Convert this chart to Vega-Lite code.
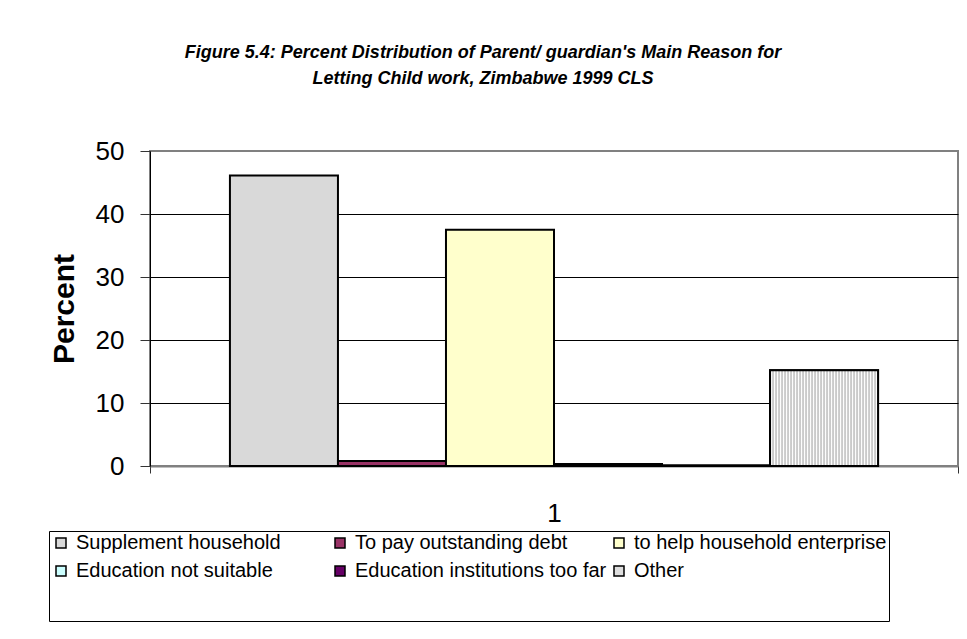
{
  "$schema": "https://vega.github.io/schema/vega-lite/v6.json",
  "width": 808,
  "height": 315,
  "autosize": {"type": "none"},
  "padding": {"left": 150, "top": 151, "right": 9, "bottom": 173},
  "background": "white",
  "title": {
    "text": ["Figure  5.4: Percent Distribution of Parent/ guardian's Main Reason for", "Letting Child work, Zimbabwe 1999 CLS"],
    "font": "Liberation Sans",
    "fontSize": 18,
    "fontStyle": "italic",
    "fontWeight": "bold",
    "color": "black",
    "anchor": "middle",
    "dx": -71,
    "offset": 50,
    "lineHeight": 26
  },
  "data": {
    "values": [
      {"group": "1", "reason": "Supplement household", "percent": 46.1},
      {"group": "1", "reason": "To pay outstanding debt", "percent": 0.8},
      {"group": "1", "reason": "to help household enterprise", "percent": 37.5},
      {"group": "1", "reason": "Education not suitable", "percent": 0.3},
      {"group": "1", "reason": "Education institutions too far", "percent": 0.1},
      {"group": "1", "reason": "Other", "percent": 15.2}
    ]
  },
  "encoding": {
    "x": {
      "field": "group",
      "type": "nominal",
      "scale": {"paddingInner": 0, "paddingOuter": 0},
      "axis": {
        "title": null,
        "labelAngle": 0,
        "labelFont": "Liberation Sans",
        "labelFontSize": 26,
        "labelColor": "black",
        "labelPadding": 27,
        "tickBand": "extent",
        "tickSize": 7,
        "tickColor": "#333333",
        "domainColor": "#808080",
        "domainWidth": 2
      }
    },
    "xOffset": {
      "field": "reason",
      "type": "nominal",
      "sort": ["Supplement household", "To pay outstanding debt", "to help household enterprise", "Education not suitable", "Education institutions too far", "Other"],
      "scale": {"paddingInner": 0, "paddingOuter": 0.74}
    },
    "y": {
      "field": "percent",
      "type": "quantitative",
      "scale": {"domain": [0, 50], "nice": false},
      "axis": {
        "title": "Percent",
        "titleFont": "Liberation Sans",
        "titleFontSize": 30,
        "titleFontWeight": "bold",
        "titleColor": "black",
        "titlePadding": 16,
        "values": [0, 10, 20, 30, 40, 50],
        "labelFont": "Liberation Sans",
        "labelFontSize": 26,
        "labelColor": "black",
        "labelPadding": 16,
        "tickSize": 10,
        "tickColor": "#333333",
        "domainColor": "black",
        "domainWidth": 1,
        "grid": true,
        "gridColor": "black",
        "gridWidth": 1,
        "gridOpacity": {"condition": {"test": "datum.value == 0 || datum.value == 50", "value": 0}, "value": 1}
      }
    }
  },
  "layer": [
    {
      "mark": {"type": "bar", "stroke": "black", "strokeWidth": 2},
      "encoding": {
        "color": {
          "field": "reason",
          "type": "nominal",
          "scale": {
            "domain": ["Supplement household", "To pay outstanding debt", "to help household enterprise", "Education not suitable", "Education institutions too far", "Other"],
            "range": ["#d9d9d9", "#993366", "#ffffcc", "#ccffff", "#660066", "#dedede"]
          },
          "legend": {
            "title": " ",
            "titleOrient": "bottom",
            "titleFontSize": 10,
            "titlePadding": 28,
            "orient": "none",
            "legendX": -101,
            "legendY": 380,
            "direction": "horizontal",
            "columns": 3,
            "gridAlign": "all",
            "columnPadding": 1,
            "rowPadding": 8,
            "padding": 2,
            "strokeColor": "black",
            "fillColor": "white",
            "symbolType": "square",
            "symbolSize": 100,
            "symbolStrokeColor": "black",
            "symbolStrokeWidth": 1.5,
            "symbolOpacity": 1,
            "labelFont": "Liberation Sans",
            "labelFontSize": 20,
            "labelColor": "black",
            "labelLimit": 400,
            "labelOffset": 5
          }
        }
      }
    },
    {
      "transform": [{"filter": "datum.reason === 'Other'"}],
      "mark": {
        "type": "bar",
        "stroke": "black",
        "strokeWidth": 2,
        "fill": {
          "gradient": "linear",
          "x1": 0, "y1": 0, "x2": 1, "y2": 0,
          "stops": [
            {"offset": 0, "color": "#b4b4b4"}, {"offset": 0.01389, "color": "#ffffff"},
            {"offset": 0.02778, "color": "#b4b4b4"}, {"offset": 0.04167, "color": "#ffffff"},
            {"offset": 0.05556, "color": "#b4b4b4"}, {"offset": 0.06944, "color": "#ffffff"},
            {"offset": 0.08333, "color": "#b4b4b4"}, {"offset": 0.09722, "color": "#ffffff"},
            {"offset": 0.11111, "color": "#b4b4b4"}, {"offset": 0.125, "color": "#ffffff"},
            {"offset": 0.13889, "color": "#b4b4b4"}, {"offset": 0.15278, "color": "#ffffff"},
            {"offset": 0.16667, "color": "#b4b4b4"}, {"offset": 0.18056, "color": "#ffffff"},
            {"offset": 0.19444, "color": "#b4b4b4"}, {"offset": 0.20833, "color": "#ffffff"},
            {"offset": 0.22222, "color": "#b4b4b4"}, {"offset": 0.23611, "color": "#ffffff"},
            {"offset": 0.25, "color": "#b4b4b4"}, {"offset": 0.26389, "color": "#ffffff"},
            {"offset": 0.27778, "color": "#b4b4b4"}, {"offset": 0.29167, "color": "#ffffff"},
            {"offset": 0.30556, "color": "#b4b4b4"}, {"offset": 0.31944, "color": "#ffffff"},
            {"offset": 0.33333, "color": "#b4b4b4"}, {"offset": 0.34722, "color": "#ffffff"},
            {"offset": 0.36111, "color": "#b4b4b4"}, {"offset": 0.375, "color": "#ffffff"},
            {"offset": 0.38889, "color": "#b4b4b4"}, {"offset": 0.40278, "color": "#ffffff"},
            {"offset": 0.41667, "color": "#b4b4b4"}, {"offset": 0.43056, "color": "#ffffff"},
            {"offset": 0.44444, "color": "#b4b4b4"}, {"offset": 0.45833, "color": "#ffffff"},
            {"offset": 0.47222, "color": "#b4b4b4"}, {"offset": 0.48611, "color": "#ffffff"},
            {"offset": 0.5, "color": "#b4b4b4"}, {"offset": 0.51389, "color": "#ffffff"},
            {"offset": 0.52778, "color": "#b4b4b4"}, {"offset": 0.54167, "color": "#ffffff"},
            {"offset": 0.55556, "color": "#b4b4b4"}, {"offset": 0.56944, "color": "#ffffff"},
            {"offset": 0.58333, "color": "#b4b4b4"}, {"offset": 0.59722, "color": "#ffffff"},
            {"offset": 0.61111, "color": "#b4b4b4"}, {"offset": 0.625, "color": "#ffffff"},
            {"offset": 0.63889, "color": "#b4b4b4"}, {"offset": 0.65278, "color": "#ffffff"},
            {"offset": 0.66667, "color": "#b4b4b4"}, {"offset": 0.68056, "color": "#ffffff"},
            {"offset": 0.69444, "color": "#b4b4b4"}, {"offset": 0.70833, "color": "#ffffff"},
            {"offset": 0.72222, "color": "#b4b4b4"}, {"offset": 0.73611, "color": "#ffffff"},
            {"offset": 0.75, "color": "#b4b4b4"}, {"offset": 0.76389, "color": "#ffffff"},
            {"offset": 0.77778, "color": "#b4b4b4"}, {"offset": 0.79167, "color": "#ffffff"},
            {"offset": 0.80556, "color": "#b4b4b4"}, {"offset": 0.81944, "color": "#ffffff"},
            {"offset": 0.83333, "color": "#b4b4b4"}, {"offset": 0.84722, "color": "#ffffff"},
            {"offset": 0.86111, "color": "#b4b4b4"}, {"offset": 0.875, "color": "#ffffff"},
            {"offset": 0.88889, "color": "#b4b4b4"}, {"offset": 0.90278, "color": "#ffffff"},
            {"offset": 0.91667, "color": "#b4b4b4"}, {"offset": 0.93056, "color": "#ffffff"},
            {"offset": 0.94444, "color": "#b4b4b4"}, {"offset": 0.95833, "color": "#ffffff"},
            {"offset": 0.97222, "color": "#b4b4b4"}, {"offset": 0.98611, "color": "#ffffff"},
            {"offset": 1, "color": "#b4b4b4"}
          ]
        }
      }
    }
  ],
  "config": {
    "view": {"stroke": "#808080", "strokeWidth": 2}
  }
}
